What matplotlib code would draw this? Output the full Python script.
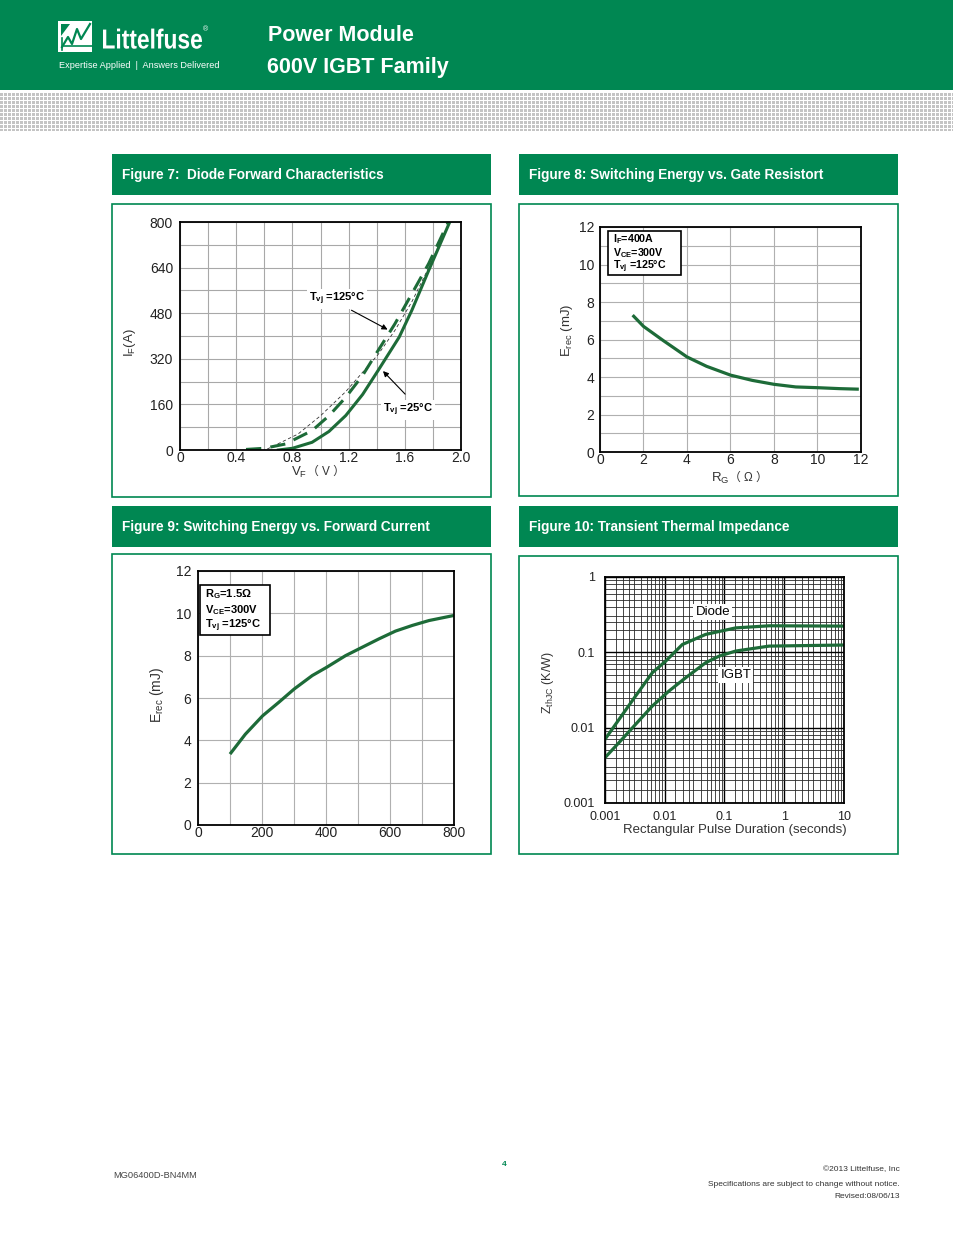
import matplotlib as mpl
import matplotlib.pyplot as plt
from matplotlib.patches import Rectangle, Polygon, PathPatch
from matplotlib.textpath import TextPath
from matplotlib.font_manager import FontProperties
from matplotlib.transforms import Affine2D
from matplotlib.ticker import LogLocator, NullFormatter, FixedLocator, MultipleLocator
import numpy as np

mpl.rcParams["font.family"] = ["Liberation Sans", "DejaVu Sans"]

# Figure 7: diode forward characteristics
vf_25 = [0.70, 0.80, 0.94, 1.06, 1.18, 1.30, 1.41, 1.56, 1.65, 1.77, 1.92]
if_25 = [0, 6, 27, 65, 121, 195, 279, 396, 490, 630, 800]
vf_125 = [0.47, 0.60, 0.75, 0.94, 1.06, 1.18, 1.30, 1.41, 1.53, 1.65, 1.77, 1.91]
if_125 = [2, 6, 21, 68, 120, 185, 262, 349, 443, 548, 654, 800]
vf_ref = [0.62, 0.84, 1.00, 1.18, 1.41, 1.53, 1.65, 1.77, 1.90]
if_ref = [3, 56, 120, 205, 335, 420, 520, 640, 780]

# Figure 8: switching energy vs gate resistor
rg = [1.5, 2.0, 2.9, 4.0, 4.9, 6.0, 7.0, 8.0, 9.0, 10.0, 11.0, 11.9]
erec_rg = [7.3, 6.7, 5.95, 5.07, 4.57, 4.1, 3.82, 3.61, 3.47, 3.43, 3.38, 3.35]

# Figure 9: switching energy vs forward current
if_e = [100, 148, 202, 252, 301, 357, 402, 461, 503, 565, 617, 670, 722, 800]
erec_if = [3.35, 4.29, 5.16, 5.79, 6.43, 7.06, 7.45, 8.0, 8.32, 8.79, 9.16, 9.43, 9.66, 9.9]

# Figure 10: transient thermal impedance
t_diode = [0.001, 0.00172, 0.00326, 0.0062, 0.0104, 0.0197, 0.0484, 0.154, 0.558, 10]
z_diode = [0.0070, 0.0129, 0.0264, 0.0537, 0.0766, 0.127, 0.173, 0.211, 0.225, 0.223]
t_igbt = [0.001, 0.00172, 0.00326, 0.0062, 0.0118, 0.0224, 0.0484, 0.0812, 0.154, 0.558, 10]
z_igbt = [0.0040, 0.00635, 0.0111, 0.0194, 0.0307, 0.046, 0.0728, 0.089, 0.104, 0.121, 0.125]

GREEN = "#008752"
LINE = "#1d6b38"
W, H = 954, 1235
NARROW = ["Liberation Sans Narrow", "Liberation Sans"]
CJK = ["Liberation Sans", "Noto Sans CJK SC"]

fig = plt.figure(figsize=(W / 100, H / 100), dpi=100)

# page background in pixel coordinates
bg = fig.add_axes([0, 0, 1, 1])
bg.set_xlim(0, W)
bg.set_ylim(H, 0)
bg.axis("off")

bg.add_patch(Rectangle((0, 0), W, 90, color=GREEN, lw=0))

# dotted band under the header
rows, cols = 38, W
pattern = np.ones((rows, cols, 3))
mask = (np.arange(cols)[None, :] % 4 < 3) & (np.arange(rows)[:, None] % 4 < 3)
pattern[mask] = 0.77
bg.imshow(pattern, extent=(0, W, 131, 93), aspect="auto", interpolation="nearest")
bg.set_xlim(0, W)
bg.set_ylim(H, 0)

# logo
bg.add_patch(Rectangle((58, 21), 34, 31, color="white", lw=0))
bg.add_patch(Polygon([(61, 24), (70, 24), (61, 36)], closed=True, color=GREEN, lw=0))
bg.plot([62, 68, 72, 77, 81, 90], [47, 37, 44, 29, 39, 24], color=GREEN, lw=1.6)
bg.plot([64, 92], [46, 46], color=GREEN, lw=1.2)
bg.plot([62, 62], [38, 50], color=GREEN, lw=1.2)

# condensed brand name: squeeze a text path horizontally
brand = TextPath((0, 0), "Littelfuse", size=27.5,
                 prop=FontProperties(family="Liberation Sans", weight="bold"))
ext = brand.get_extents()
sx = 99.0 / ext.width
brand_tr = Affine2D().translate(-ext.x0, 0).scale(sx, -1).translate(103, 48.5)
bg.add_patch(PathPatch(brand_tr.transform_path(brand), facecolor="white", lw=0))
bg.text(203, 30, "®", color="white", fontsize=5, va="center", ha="left")

bg.text(59, 66, "Expertise Applied  |  Answers Delivered", color="white",
        fontsize=6.6, va="center")
bg.text(268, 41, "Power Module", color="white", fontsize=15.5, fontweight="bold",
        va="baseline")
bg.text(267, 73, "600V IGBT Family", color="white", fontsize=15.5, fontweight="bold",
        va="baseline")

# figure title bars and panel frames
panels = [
    (112, 154, 491, 204, 497, "Figure 7:  Diode Forward Characteristics"),
    (519, 154, 898, 204, 496, "Figure 8: Switching Energy vs. Gate Resistort"),
    (112, 506, 491, 554, 854, "Figure 9: Switching Energy vs. Forward Current"),
    (519, 506, 898, 556, 854, "Figure 10: Transient Thermal Impedance"),
]
for x0, ty, x1, by0, by1, title in panels:
    bg.add_patch(Rectangle((x0, ty), x1 - x0, 41, color=GREEN, lw=0))
    bg.text(x0 + 10, ty + 21.5, title, color="white", fontsize=9.8,
            fontweight="bold", va="center")
    bg.add_patch(Rectangle((x0, by0), x1 - x0, by1 - by0, facecolor="white",
                           edgecolor=GREEN, lw=1.2))

# footer
bg.text(113, 1175, "MG06400D-BN4MM", fontsize=6.7, color="#444", family=NARROW,
        va="center")
bg.text(504, 1165, "4", fontsize=6, color=GREEN, fontweight="bold", va="center",
        ha="center")
for yy, s in [(1170, "©2013 Littelfuse, Inc"),
              (1184, "Specifications are subject to change without notice."),
              (1196, "Revised:08/06/13")]:
    bg.text(900, yy, s, fontsize=6, color="#333", family=NARROW, ha="right",
            va="center")


def add_chart(x0, y0, x1, y1, size=10):
    ax = fig.add_axes([x0 / W, 1 - y1 / H, (x1 - x0) / W, (y1 - y0) / H])
    for sp in ax.spines.values():
        sp.set_color("black")
        sp.set_linewidth(1.3)
    ax.tick_params(which="both", length=0, labelsize=size, colors="#222")
    ax.set_axisbelow(True)
    return ax


# ---- Figure 7
ax7 = add_chart(180, 222, 461, 450)
ax7.plot(vf_ref, if_ref, color="#333", lw=0.6, ls=(0, (4, 3)))
ax7.plot(vf_125, if_125, color=LINE, lw=2.2, ls=(0, (5, 3)))
ax7.plot(vf_25, if_25, color=LINE, lw=2.2)
ax7.set_xlim(0, 2.0)
ax7.set_ylim(0, 800)
ax7.xaxis.set_major_locator(FixedLocator([0, 0.4, 0.8, 1.2, 1.6, 2.0]))
ax7.xaxis.set_minor_locator(MultipleLocator(0.2))
ax7.set_xticklabels(["0", "0.4", "0.8", "1.2", "1.6", "2.0"])
ax7.yaxis.set_major_locator(MultipleLocator(160))
ax7.yaxis.set_minor_locator(MultipleLocator(80))
ax7.grid(which="both", color="#a8a8a8", lw=0.8)
ax7.tick_params(axis="x", pad=1)
ax7.tick_params(axis="y", pad=5)
ax7.annotate("", xy=(1.495, 418), xytext=(1.203, 495),
             arrowprops=dict(arrowstyle="-|>", color="black", lw=0.8,
                             mutation_scale=8))
ax7.annotate("", xy=(1.431, 284), xytext=(1.616, 189),
             arrowprops=dict(arrowstyle="-|>", color="black", lw=0.8,
                             mutation_scale=8))
box_w = dict(facecolor="white", edgecolor="none", pad=1.5)
ax7.text(1.117, 530, r"T$_\mathregular{vj}$ =125°C", fontsize=8, fontweight="bold",
         ha="center", va="center", bbox=box_w)
ax7.text(1.623, 140, r"T$_\mathregular{vj}$ =25°C", fontsize=8, fontweight="bold",
         ha="center", va="center", bbox=box_w)

# ---- Figure 8
ax8 = add_chart(600, 227, 861, 452)
ax8.plot(rg, erec_rg, color=LINE, lw=2.3, solid_capstyle="butt")
ax8.set_xlim(0, 12)
ax8.set_ylim(0, 12)
ax8.xaxis.set_major_locator(MultipleLocator(2))
ax8.yaxis.set_major_locator(MultipleLocator(2))
ax8.yaxis.set_minor_locator(MultipleLocator(1))
ax8.grid(which="both", color="#b0b0b0", lw=0.8)
ax8.tick_params(axis="x", pad=1)
ax8.tick_params(axis="y", pad=4)

# ---- Figure 9
ax9 = add_chart(198, 571, 454, 825)
ax9.plot(if_e, erec_if, color=LINE, lw=2.3, solid_capstyle="butt")
ax9.set_xlim(0, 800)
ax9.set_ylim(0, 12)
ax9.xaxis.set_major_locator(MultipleLocator(200))
ax9.xaxis.set_minor_locator(MultipleLocator(100))
ax9.yaxis.set_major_locator(MultipleLocator(2))
ax9.grid(which="both", color="#b0b0b0", lw=0.8)
ax9.tick_params(axis="x", pad=1)
ax9.tick_params(axis="y", pad=5)

# ---- Figure 10
ax10 = add_chart(605, 577, 844, 803, size=9)
ax10.plot(t_diode, z_diode, color=LINE, lw=2.3)
ax10.plot(t_igbt, z_igbt, color=LINE, lw=2.3)
ax10.set_xscale("log")
ax10.set_yscale("log")
ax10.set_xlim(0.001, 10)
ax10.set_ylim(0.001, 1)
ax10.set_xticks([0.001, 0.01, 0.1, 1, 10])
ax10.set_xticklabels(["0.001", "0.01", "0.1", "1", "10"])
ax10.set_yticks([0.001, 0.01, 0.1, 1])
ax10.set_yticklabels(["0.001", "0.01", "0.1", "1"])
subs = [1.5, 2, 2.5, 3, 4, 5, 6, 7, 8, 9]
for axis in (ax10.xaxis, ax10.yaxis):
    axis.set_minor_locator(LogLocator(base=10, subs=subs))
    axis.set_minor_formatter(NullFormatter())
ax10.grid(which="major", color="black", lw=1.0)
ax10.grid(which="minor", color="#2a2a2a", lw=0.6)
ax10.tick_params(axis="x", pad=6)
ax10.tick_params(axis="y", pad=7)
ax10.text(0.064, 0.34, "Diode", fontsize=9.5, ha="center", va="center",
          bbox=dict(facecolor="white", edgecolor="none", pad=1.5))
ax10.text(0.155, 0.050, "IGBT", fontsize=9.5, ha="center", va="center",
          bbox=dict(facecolor="white", edgecolor="none", pad=1.5))

# overlay for labels and condition boxes
ov = fig.add_axes([0, 0, 1, 1], zorder=10)
ov.patch.set_alpha(0)
ov.set_xlim(0, W)
ov.set_ylim(H, 0)
ov.axis("off")

ov.text(130, 343, r"I$_\mathregular{F}$(A)", fontsize=9.5, rotation=90,
        ha="center", va="center", color="#333")
ov.text(307, 472, r"V$_\mathregular{F}$", fontsize=9.5, ha="right", va="center",
        color="#333")
ov.text(307, 472, "（ V ）", fontsize=8.5, family=CJK, ha="left", va="center",
        color="#333")

ov.text(567, 330, r"E$_\mathregular{rec}$ (mJ)", fontsize=9.5, rotation=90,
        ha="center", va="center", color="#333")
ov.text(729, 478, r"R$_\mathregular{G}$", fontsize=9.5, ha="right", va="center",
        color="#333")
ov.text(729, 478, "（ Ω ）", fontsize=8.5, family=CJK, ha="left", va="center",
        color="#333")

ov.text(157, 695, r"E$_\mathregular{rec}$ (mJ)", fontsize=10, rotation=90,
        ha="center", va="center", color="#333")

ov.text(548, 683, r"Z$_\mathregular{thJC}$ (K/W)", fontsize=9, rotation=90,
        ha="center", va="center", color="#333")
ov.text(735, 830, "Rectangular Pulse Duration (seconds)", fontsize=9.5,
        ha="center", va="center", color="#333")

ov.add_patch(Rectangle((608, 231), 73, 44, facecolor="white", edgecolor="black",
                       lw=1.2))
for yy, s in [(239.5, r"I$_\mathregular{F}$=400A"),
              (253, r"V$_\mathregular{CE}$=300V"),
              (266.5, r"T$_\mathregular{vj}$ =125°C")]:
    ov.text(613, yy, s, fontsize=7.7, fontweight="bold", va="center")

ov.add_patch(Rectangle((200, 585), 70, 50, facecolor="white", edgecolor="black",
                       lw=1.2))
for yy, s in [(594.5, r"R$_\mathregular{G}$=1.5Ω"),
              (610, r"V$_\mathregular{CE}$=300V"),
              (626, r"T$_\mathregular{vj}$ =125°C")]:
    ov.text(205, yy, s, fontsize=8, fontweight="bold", va="center")

fig.savefig("out.png", dpi=100)
